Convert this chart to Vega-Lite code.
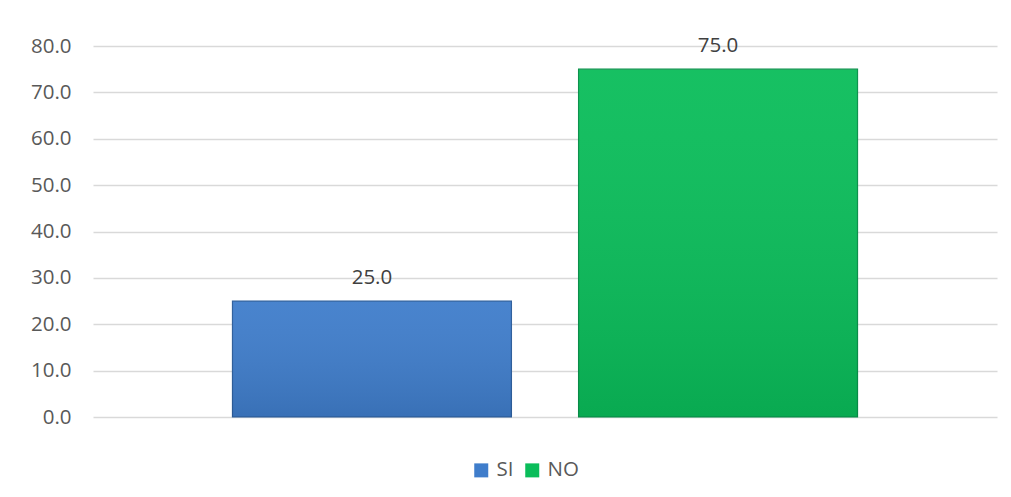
{
  "$schema": "https://vega.github.io/schema/vega-lite/v6.json",
  "autosize": "none",
  "width": 904,
  "height": 371,
  "padding": {"left": 93, "top": 46, "right": 14, "bottom": 80},
  "background": "white",
  "config": {
    "view": {"stroke": null},
    "font": "Open Sans"
  },
  "data": {
    "values": [
      {"serie": "SI", "valor": 25.0},
      {"serie": "NO", "valor": 75.0}
    ]
  },
  "encoding": {
    "x": {
      "field": "serie",
      "type": "nominal",
      "sort": ["SI", "NO"],
      "scale": {"paddingInner": 0.194, "paddingOuter": 0.403},
      "axis": null
    },
    "y": {
      "field": "valor",
      "type": "quantitative",
      "scale": {"domain": [0, 80], "nice": false},
      "axis": {
        "values": [0, 10, 20, 30, 40, 50, 60, 70, 80],
        "format": ".1f",
        "title": null,
        "domain": false,
        "ticks": false,
        "grid": true,
        "gridColor": "#d9d9d9",
        "gridWidth": 1.3,
        "labelColor": "#595959",
        "labelFontSize": 20.5,
        "labelPadding": 22,
        "labelFont": "Open Sans"
      }
    }
  },
  "layer": [
    {
      "mark": {"type": "bar", "strokeWidth": 1.2},
      "encoding": {
        "color": {
          "field": "serie",
          "type": "nominal",
          "sort": ["SI", "NO"],
          "scale": {"domain": ["SI", "NO"], "range": ["#3F7DCB", "#0ABD5A"]},
          "legend": {
            "title": null,
            "orient": "none",
            "direction": "horizontal",
            "legendX": 378,
            "legendY": 414,
            "symbolType": "square",
            "symbolSize": 196,
            "symbolStrokeWidth": 0,
            "symbolOpacity": 1,
            "labelFontSize": 20.5,
            "labelColor": "#595959",
            "labelFont": "Open Sans",
            "labelOffset": 5,
            "columnPadding": 8
          }
        },
        "stroke": {
          "field": "serie",
          "type": "nominal",
          "scale": {"domain": ["SI", "NO"], "range": ["#2D5E9C", "#08904A"]},
          "legend": null
        }
      }
    },
    {
      "mark": {
        "type": "bar",
        "fill": {
          "gradient": "linear",
          "x1": 0, "y1": 0, "x2": 0, "y2": 1,
          "stops": [
            {"offset": 0, "color": "rgba(255,255,255,0.05)"},
            {"offset": 1, "color": "rgba(0,0,0,0.1)"}
          ]
        }
      }
    },
    {
      "mark": {
        "type": "text",
        "baseline": "alphabetic",
        "dy": -17,
        "fontSize": 20.5,
        "color": "#404040",
        "font": "Open Sans"
      },
      "encoding": {
        "text": {"field": "valor", "type": "quantitative", "format": ".1f"}
      }
    }
  ]
}
